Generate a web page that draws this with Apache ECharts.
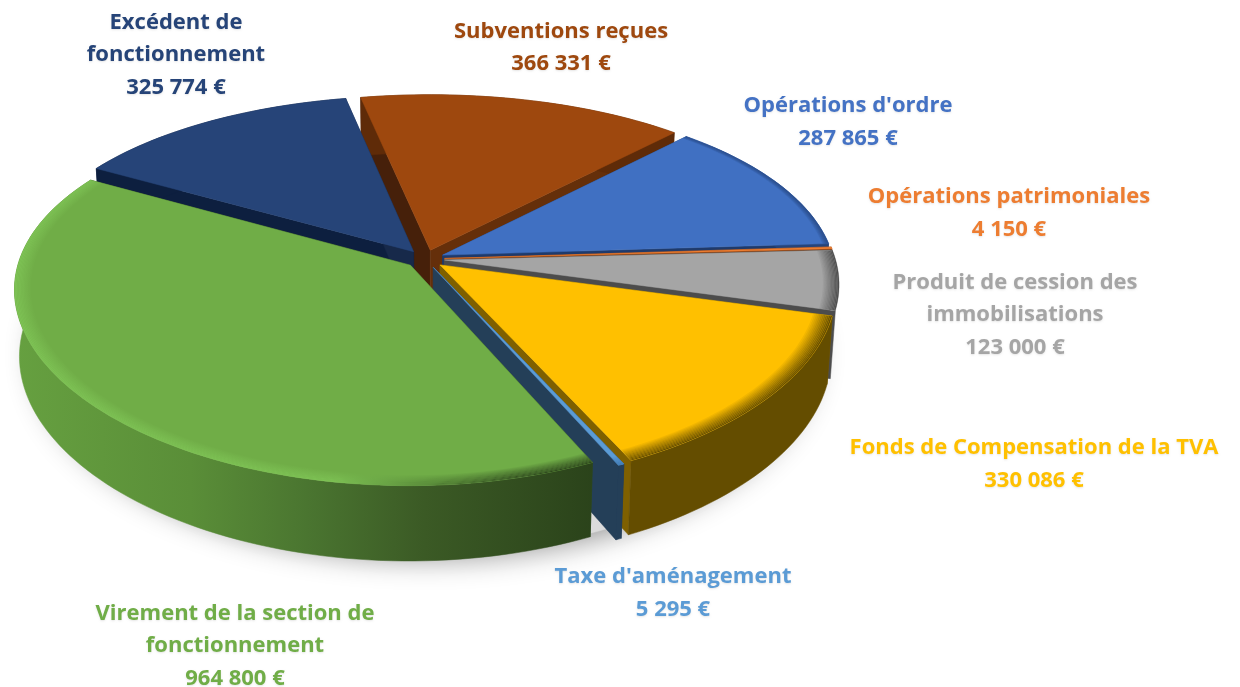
<!DOCTYPE html>
<html>
<head>
<meta charset="utf-8">
<style>
  html, body { margin: 0; padding: 0; background: #fff; }
  #chart { width: 1240px; height: 687px; }
</style>
</head>
<body>
<div id="chart"></div>
<script src="https://cdn.jsdelivr.net/npm/echarts@6/dist/echarts.min.js"></script>
<script>
const categories = ['Subventions reçues', "Opérations d'ordre", 'Opérations patrimoniales', 'Produit de cession des\nimmobilisations', 'Fonds de Compensation de la TVA', "Taxe d'aménagement", 'Virement de la section de\nfonctionnement', 'Excédent de\nfonctionnement']
const values = [366331, 287865, 4150, 123000, 330086, 5295, 964800, 325774]

const topColors = ['#9E480E', '#4070C2', '#ED7D31', '#A5A5A5', '#FFC000', '#5B9BD5', '#70AD47', '#264478']
const labelColors = ['#9E480E', '#4472C4', '#ED7D31', '#A5A5A5', '#FFC000', '#5B9BD5', '#70AD47', '#264478']
const outerWalls = ['#5f2b08', '#26447a', null, null, '#644d00', '#243F58', null, '#0d1f3f']
const startWalls = ['#46200a', '#1f3a6b', '#7a3d16', '#4c4c4c', '#7f6000', '#243F58', '#2f4a1e', '#0d1f3f']
const endWalls = ['#652f0a', '#1f3a6b', '#7a3d16', '#4c4c4c', '#7f6000', '#243F58', '#2f4a1e', '#17294a']
const rimColors = [null, '#26447a', null, '#4c4c4c', '#644d00', '#3f78b0', null, null]
const rimWidths = [0, 0.5, 0, 1.2, 1.4, 1, 1.2, 0]
// back to front
const paintOrder = [0, 7, 1, 2, 3, 4, 5, 6]
const labelPos = [[561, 47.5], [848, 122], [1009, 213], [1015, 315], [1034, 464], [673, 593], [235, 646], [176, 55]]

// projection of the tilted pie
const cx = 425, cy = 259, rx = 391, ry = 183, perspX = 0.125, perspY = 0.16, shrink = 0.012, depth = 66.5
const explode = 0.05, firstAngle = -11.5

const total = values.reduce((a, b) => a + b, 0)

function toRad(a) { return a * Math.PI / 180 }

function project(x, y, down) {
  const sx = 1 / (1 + perspX * y + shrink * down)
  const sy = 1 / (1 + perspY * y + shrink * down)
  return [cx + rx * x * sx, cy - ry * y * sy + depth * down * sy]
}

function sliceAngles(i) {
  let before = 0
  for (let k = 0; k < i; k++) before += values[k]
  const a0 = firstAngle + before / total * 360
  const a1 = a0 + values[i] / total * 360
  return [a0, a1]
}

function arcPoints(a0, a1, r, ox, oy, down) {
  const pts = []
  const n = Math.max(2, Math.ceil((a1 - a0) / 1.5))
  for (let k = 0; k <= n; k++) {
    const a = toRad(a0 + (a1 - a0) * k / n)
    pts.push(project(ox + r * Math.sin(a), oy + r * Math.cos(a), down))
  }
  return pts
}

function poly(points, fill, z2, extra) {
  return {
    type: 'polygon',
    shape: { points: points },
    style: Object.assign({ fill: fill, stroke: fill, lineWidth: 0.5 }, extra || {}),
    z2: z2,
    silent: true
  }
}

function greenWall() {
  return new echarts.graphic.LinearGradient(15, 0, 600, 0, [
    { offset: 0, color: '#66a040' },
    { offset: 0.3, color: '#5a8e38' },
    { offset: 0.5, color: '#4a7530' },
    { offset: 0.7, color: '#3b5a25' },
    { offset: 1, color: '#2a421a' }
  ], true)
}

function greenRim() {
  return new echarts.graphic.LinearGradient(15, 0, 600, 0, [
    { offset: 0, color: '#7ec355' },
    { offset: 0.55, color: '#7ec355' },
    { offset: 0.72, color: '#4f7d33' },
    { offset: 0.85, color: '#2f4a1e' },
    { offset: 1, color: '#2a421a' }
  ], true)
}

function renderSlice(params, api) {
  const i = params.dataIndex
  const value = api.value(0)
  const [a0, a1] = sliceAngles(i)
  const mid = toRad((a0 + a1) / 2)
  const ox = explode * Math.sin(mid)
  const oy = explode * Math.cos(mid)
  const base = (paintOrder.indexOf(i) + 1) * 20
  const isGreen = value === Math.max.apply(null, values)
  const children = []

  if (i === 0) {
    // soft shadow below the whole pie
    children.push(poly(arcPoints(0, 360, 0.995, 0, -0.01, 1), '#dcdcdc', 1, {
      shadowBlur: 30,
      shadowColor: 'rgba(0,0,0,0.45)',
      shadowOffsetY: 4
    }))
  }

  const apexTop = project(ox, oy, 0)
  const apexBottom = project(ox, oy, 1)
  const rimStartTop = arcPoints(a0, a0, 1, ox, oy, 0)[0]
  const rimStartBottom = arcPoints(a0, a0, 1, ox, oy, 1)[0]
  const rimEndTop = arcPoints(a1, a1, 1, ox, oy, 0)[0]
  const rimEndBottom = arcPoints(a1, a1, 1, ox, oy, 1)[0]

  children.push(poly([apexTop, rimStartTop, rimStartBottom, apexBottom], startWalls[i], base))
  children.push(poly([apexTop, rimEndTop, rimEndBottom, apexBottom], endWalls[i], base))

  const wallFill = isGreen ? greenWall() : outerWalls[i]
  if (wallFill) {
    const wall = arcPoints(a0, a1, 1, ox, oy, 0).concat(arcPoints(a0, a1, 1, ox, oy, 1).reverse())
    children.push(poly(wall, wallFill, base + 1))
  }

  const top = [apexTop].concat(arcPoints(a0, a1, 1, ox, oy, 0))
  children.push(poly(top, topColors[i], base + 2))

  const rim = isGreen ? greenRim() : rimColors[i]
  if (rim) {
    // blurred bevel along the outer edge, drawn as thin fading strips
    const steps = 12
    const bandWidth = 0.0028 * rimWidths[i]
    for (let k = 0; k < steps; k++) {
      const r0 = 1 - k * bandWidth
      const r1 = r0 - bandWidth
      const band = arcPoints(a0, a1, r0, ox, oy, 0).concat(arcPoints(a0, a1, r1, ox, oy, 0).reverse())
      children.push({
        type: 'polygon',
        shape: { points: band },
        style: { fill: rim, opacity: 0.98 * (1 - k / steps) },
        z2: base + 3,
        silent: true
      })
    }
  }

  const amount = String(value).replace(/\B(?=(\d{3})+$)/g, '\u00a0') + ' €'
  children.push({
    type: 'text',
    z2: 400,
    silent: true,
    style: {
      x: labelPos[i][0],
      y: labelPos[i][1],
      text: categories[i] + '\n' + amount,
      fill: labelColors[i],
      font: 'bold 22px "Open Sans"',
      lineHeight: 32.5,
      align: 'center',
      verticalAlign: 'middle',
      textShadowColor: 'rgba(0,0,0,0.1)',
      textShadowBlur: 2,
      textShadowOffsetY: 1
    }
  })

  return { type: 'group', children: children }
}

const chart = echarts.init(document.getElementById('chart'))
chart.setOption({
  animation: false,
  backgroundColor: '#fff',
  series: [{
    type: 'custom',
    coordinateSystem: 'none',
    renderItem: renderSlice,
    data: values.map(function (v) { return [v] })
  }]
})
</script>
</body>
</html>
